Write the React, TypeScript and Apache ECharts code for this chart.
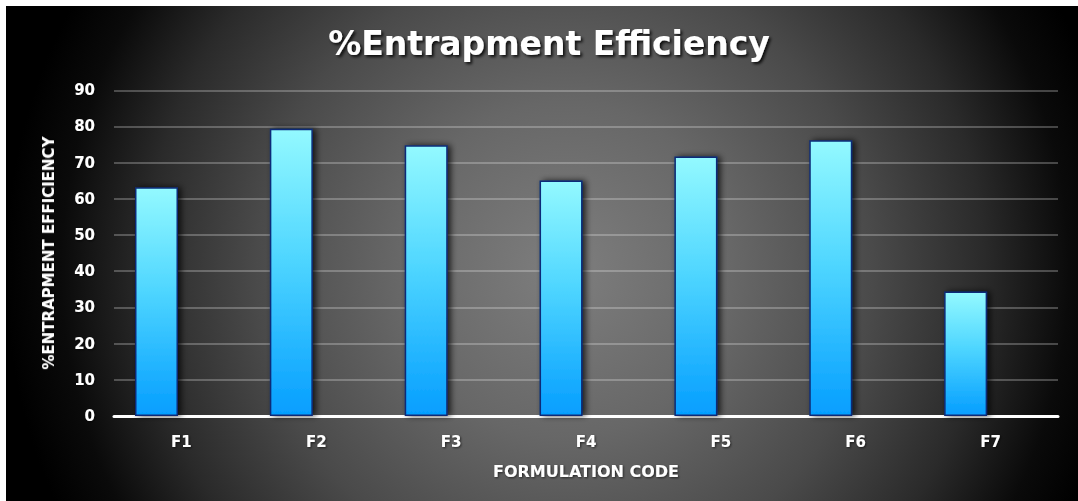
import React, { useEffect, useRef } from "react";
import * as echarts from "echarts";

// Formulation codes and their measured entrapment efficiency (%)
const categories = ["F1", "F2", "F3", "F4", "F5", "F6", "F7"];
const efficiency = [63.2, 79.4, 74.8, 65.1, 71.7, 76.2, 34.4];
const yTicks = { min: 0, max: 90, interval: 10 };

const W = 1078;
const H = 501;

export default function App() {
  const ref = useRef<HTMLDivElement>(null);

  useEffect(() => {
    if (!ref.current) return;
    const chart = echarts.init(ref.current, undefined, { renderer: "svg" });

    const boldFont = "DejaVu Sans";
    const softShadow = {
      textShadowColor: "rgba(0,0,0,0.6)",
      textShadowBlur: 2,
      textShadowOffsetX: 1,
      textShadowOffsetY: 1,
    };

    chart.setOption({
      animation: false,
      backgroundColor: "#ffffff",
      graphic: [
        {
          type: "rect",
          z: -10,
          silent: true,
          shape: { x: 6, y: 6, width: W - 6, height: H - 6 },
          style: {
            fill: {
              type: "radial",
              x: 565,
              y: 270,
              r: 560,
              global: true,
              colorStops: [
                { offset: 0, color: "#7e7e7e" },
                { offset: 0.3, color: "#676767" },
                { offset: 0.55, color: "#4a4a4a" },
                { offset: 0.75, color: "#2a2a2a" },
                { offset: 0.9, color: "#0a0a0a" },
                { offset: 1, color: "#000000" },
              ],
            },
          },
        },
      ],
      title: {
        text: "%Entrapment Efficiency",
        left: 544,
        top: 22,
        textAlign: "center",
        textStyle: {
          color: "#ffffff",
          fontFamily: boldFont,
          fontWeight: "bold",
          fontSize: 33,
          textShadowColor: "rgba(0,0,0,0.85)",
          textShadowBlur: 3,
          textShadowOffsetX: 2,
          textShadowOffsetY: 2,
        },
      },
      grid: {
        left: 114,
        right: 20,
        top: 90.3,
        bottom: 85,
        containLabel: false,
      },
      xAxis: {
        type: "category",
        data: categories,
        name: "FORMULATION CODE",
        nameLocation: "middle",
        nameGap: 47,
        nameTextStyle: {
          color: "#ffffff",
          fontFamily: boldFont,
          fontWeight: "bold",
          fontSize: 16,
          ...softShadow,
        },
        axisLine: { show: true, lineStyle: { color: "#ffffff", width: 3 } },
        axisTick: { show: false },
        axisLabel: {
          color: "#ffffff",
          fontFamily: boldFont,
          fontWeight: "bold",
          fontSize: 15,
          margin: 18,
          ...softShadow,
        },
        splitLine: { show: false },
      },
      yAxis: {
        type: "value",
        min: yTicks.min,
        max: yTicks.max,
        interval: yTicks.interval,
        name: "%ENTRAPMENT EFFICIENCY",
        nameLocation: "middle",
        nameGap: 58,
        nameRotate: 90,
        nameTextStyle: {
          color: "#ffffff",
          fontFamily: boldFont,
          fontWeight: "bold",
          fontSize: 15,
          ...softShadow,
        },
        axisLine: { show: false },
        axisTick: { show: false },
        axisLabel: {
          color: "#ffffff",
          fontFamily: boldFont,
          fontWeight: "bold",
          fontSize: 15,
          margin: 19,
          ...softShadow,
        },
        splitLine: {
          show: true,
          lineStyle: { color: "rgba(255,255,255,0.33)", width: 1.5 },
        },
      },
      series: [
        {
          type: "bar",
          name: "%Entrapment Efficiency",
          data: efficiency,
          barWidth: 43,
          barGap: "16%",
          itemStyle: {
            color: {
              type: "linear",
              x: 0,
              y: 0,
              x2: 0,
              y2: 1,
              colorStops: [
                { offset: 0, color: "#93f9ff" },
                { offset: 0.45, color: "#4fd6ff" },
                { offset: 1, color: "#059eff" },
              ],
            },
            borderColor: "#0b2c78",
            borderWidth: 1.5,
            shadowColor: "rgba(0,0,0,0.75)",
            shadowBlur: 6,
            shadowOffsetX: 3,
            shadowOffsetY: 0,
          },
        },
        {
          // empty companion slot of the clustered layout
          type: "bar",
          name: "",
          data: [],
          barWidth: 43,
          barGap: "16%",
        },
      ],
    });

    return () => chart.dispose();
  }, []);

  return (
    <div
      ref={ref}
      style={{ position: "fixed", left: 0, top: 0, width: W, height: H }}
    />
  );
}
